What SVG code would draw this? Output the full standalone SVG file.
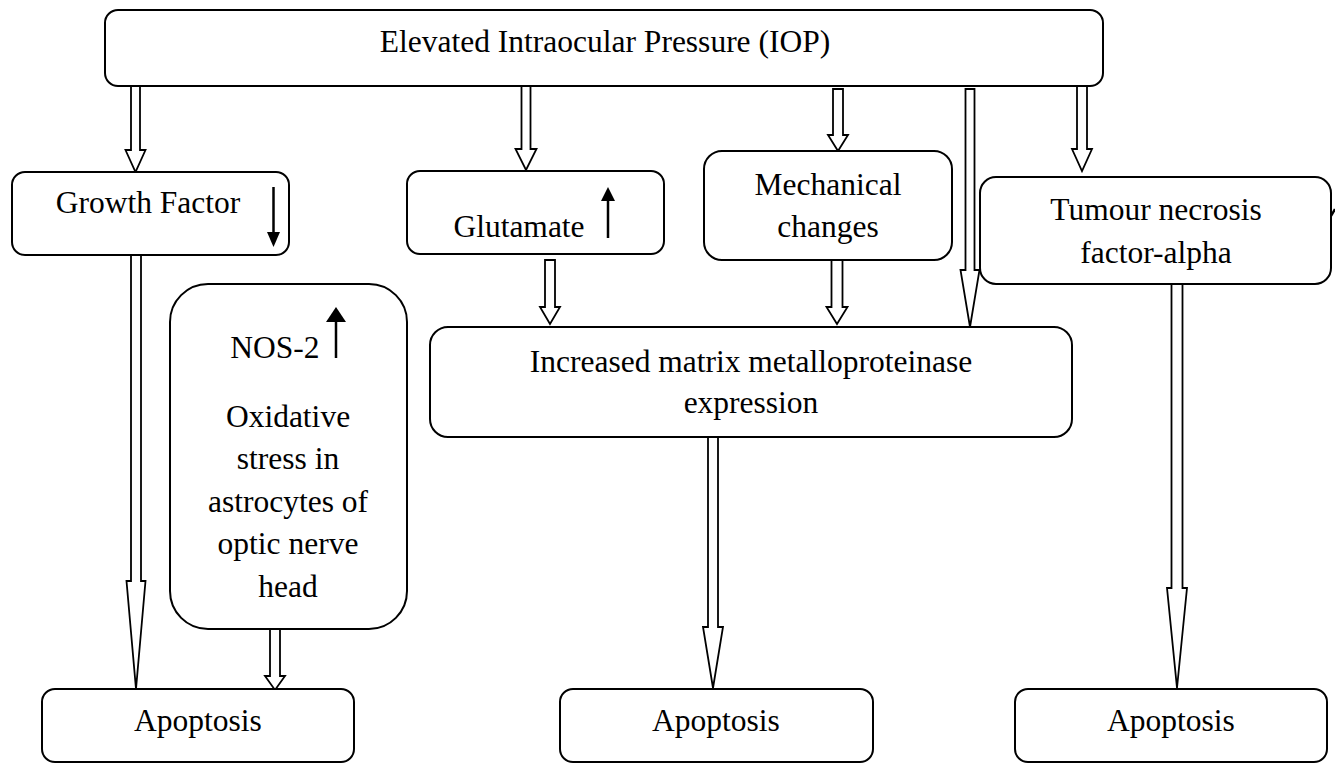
<svg xmlns="http://www.w3.org/2000/svg" width="1335" height="764" viewBox="0 0 1335 764">
<style>
.box{fill:#fff;stroke:#000;stroke-width:2}
.t{font-family:"Liberation Serif","Times New Roman",serif;font-size:31.5px;fill:#000;text-anchor:middle}
.ba{fill:#fff;stroke:#000;stroke-width:1.8;stroke-linejoin:miter}
.ind{stroke:#000;stroke-width:2.5;fill:none}
.indh{fill:#000;stroke:none}
</style>
<rect width="1335" height="764" fill="#fff"/>
<g id="connectors">
<path class="ba" d="M131,86 L140,86 L140,150 L145.5,150 L135.5,172 L125.5,150 L131,150 Z"/>
<path class="ba" d="M521.5,86 L530.5,86 L530.5,149 L536.5,149 L526,170 L515.5,149 L521.5,149 Z"/>
<path class="ba" d="M833,89 L843,89 L843,135 L848,135 L838,151 L828,135 L833,135 Z"/>
<path class="ba" d="M965.5,89 L974.5,89 L974.5,270 L979.5,270 L970,327 L960.5,270 L965.5,270 Z"/>
<path class="ba" d="M1077,86 L1087,86 L1087,149 L1092,149 L1082,171 L1072,149 L1077,149 Z"/>
<path class="ba" d="M131,254 L141,254 L141,581 L145.5,581 L136,689 L126.5,581 L131,581 Z"/>
<path class="ba" d="M270,629 L280,629 L280,676 L285,676 L275,690 L265,676 L270,676 Z"/>
<path class="ba" d="M545,260 L555,260 L555,307 L560,307 L550,324 L540,307 L545,307 Z"/>
<path class="ba" d="M831.5,260 L842.5,260 L842.5,307 L847.5,307 L837,324 L826.5,307 L831.5,307 Z"/>
<path class="ba" d="M708,437 L718,437 L718,627 L723,627 L713,688 L703,627 L708,627 Z"/>
<path class="ba" d="M1171.5,284 L1182.5,284 L1182.5,588 L1187,588 L1177,688 L1167,588 L1171.5,588 Z"/>
<path class="ind" d="M1331,216 L1335,209"/>
</g>
<g id="n-iop">
<rect class="box" x="105" y="10" width="998" height="76" rx="13"/>
<text class="t" x="605" y="52">Elevated Intraocular Pressure (IOP)</text>
</g>
<g id="n-growth">
<rect class="box" x="12" y="172" width="277" height="83" rx="13"/>
<text class="t" x="148" y="213">Growth Factor</text>
<line class="ind" x1="273.5" y1="187" x2="273.5" y2="234"/>
<path class="indh" d="M267,232 L280,232 L273.5,247 Z"/>
</g>
<g id="n-glutamate">
<rect class="box" x="407" y="171" width="257" height="83" rx="13"/>
<text class="t" x="519" y="237">Glutamate</text>
<line class="ind" x1="608" y1="199" x2="608" y2="238"/>
<path class="indh" d="M601,201 L615,201 L608,187 Z"/>
</g>
<g id="n-mech">
<rect class="box" x="704" y="151" width="248" height="109" rx="18"/>
<text class="t" x="828" y="195">Mechanical</text>
<text class="t" x="828" y="237">changes</text>
</g>
<g id="n-tnf">
<rect class="box" x="980" y="177" width="351" height="107" rx="16"/>
<text class="t" x="1156" y="220">Tumour necrosis</text>
<text class="t" x="1156" y="263">factor-alpha</text>
</g>
<g id="n-nos">
<rect class="box" x="170" y="284" width="237" height="345" rx="38"/>
<text class="t" x="275" y="358">NOS-2</text>
<line class="ind" x1="336" y1="320" x2="336" y2="358"/>
<path class="indh" d="M326,322 L346,322 L336,307 Z"/>
<text class="t" x="288" y="427">Oxidative</text>
<text class="t" x="288" y="469">stress in</text>
<text class="t" x="288" y="512">astrocytes of</text>
<text class="t" x="288" y="554">optic nerve</text>
<text class="t" x="288" y="597">head</text>
</g>
<g id="n-mmp">
<rect class="box" x="430" y="327" width="642" height="110" rx="18"/>
<text class="t" x="751" y="372">Increased matrix metalloproteinase</text>
<text class="t" x="751" y="413">expression</text>
</g>
<g id="n-apop1">
<rect class="box" x="42" y="689" width="312" height="73" rx="13"/>
<text class="t" x="198" y="731">Apoptosis</text>
</g>
<g id="n-apop2">
<rect class="box" x="560" y="689" width="313" height="73" rx="13"/>
<text class="t" x="716" y="731">Apoptosis</text>
</g>
<g id="n-apop3">
<rect class="box" x="1015" y="689" width="312" height="73" rx="13"/>
<text class="t" x="1171" y="731">Apoptosis</text>
</g>
</svg>
